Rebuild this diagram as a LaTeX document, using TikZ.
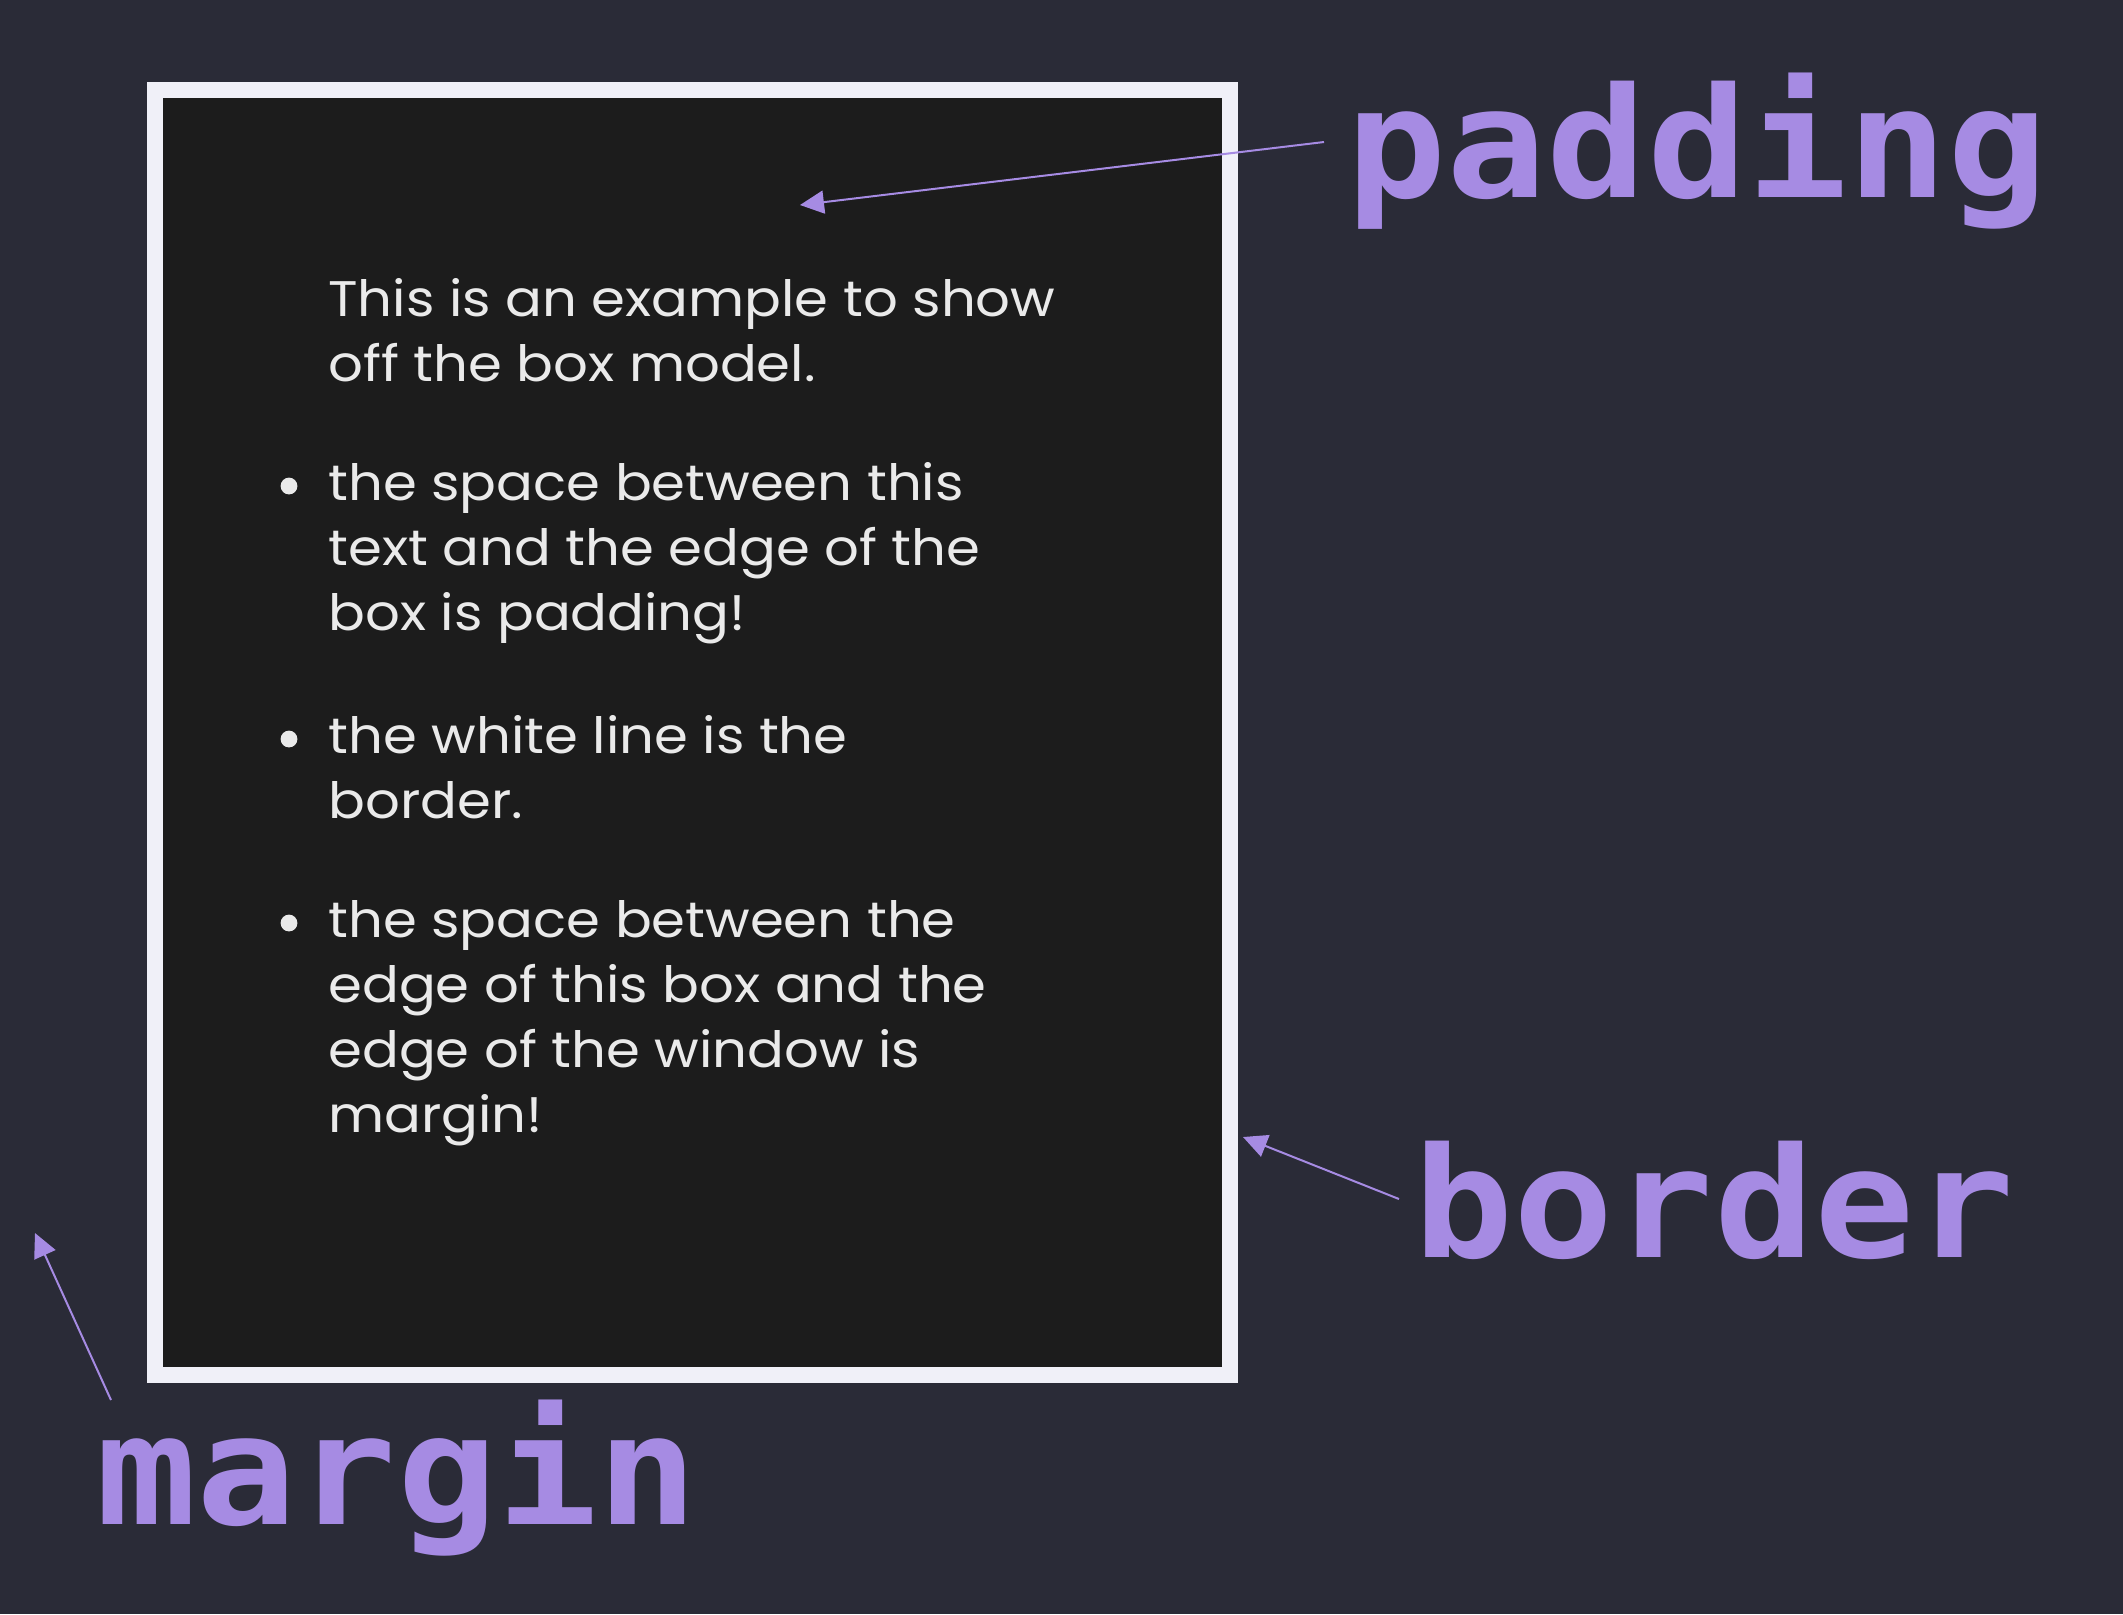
\documentclass[tikz,border=0pt]{standalone}
\usepackage{fontspec}
\setmainfont{Poppins}[FakeStretch=1.09]
\newfontfamily\labelfont{DejaVu Sans Mono}[FakeStretch=1.087]
\usetikzlibrary{arrows.meta}
\definecolor{bg}{HTML}{2A2B37}
\definecolor{boxbg}{HTML}{1C1C1C}
\definecolor{bordercol}{HTML}{F0F0F8}
\definecolor{lav}{HTML}{A68BE3}
\definecolor{txt}{HTML}{EAEAEA}
\tikzset{
  bodytext/.style={anchor=base west, inner sep=0pt, text=txt, font=\fontsize{25}{30}\selectfont},
  biglabel/.style={anchor=base west, inner sep=0pt, text=lav, font=\labelfont\bfseries\fontsize{76.6}{90}\selectfont},
  pointer/.style={draw=lav, line width=1pt, -{Triangle[length=12pt,width=11.5pt]}},
  bulletdot/.style={fill=txt}
}
\begin{document}
\begin{tikzpicture}[x=0.5pt,y=-0.5pt]
\fill[bg] (0,0) rectangle (2123,1614);
\useasboundingbox (0,0) rectangle (2123,1614);
% box
\draw[fill=boxbg, draw=bordercol, line width=8pt] (154.5,90) rectangle (1230,1375);
% text
\node[bodytext] (l1) at (328,316) {This is an example to show};
\node[bodytext] (l2) at (328,381) {off the box model.};
\fill[bulletdot] (289,486) circle[radius=4.2pt];
\node[bodytext] (b1a) at (328,500) {the space between this};
\node[bodytext] (b1b) at (328,565) {text and the edge of the};
\node[bodytext] (b1c) at (328,630) {box is padding!};
\fill[bulletdot] (289,739) circle[radius=4.2pt];
\node[bodytext] (b2a) at (328,753) {the white line is the};
\node[bodytext] (b2b) at (328,818) {border.};
\fill[bulletdot] (289,923) circle[radius=4.2pt];
\node[bodytext] (b3a) at (328,937) {the space between the};
\node[bodytext] (b3b) at (328,1002) {edge of this box and the};
\node[bodytext] (b3c) at (328,1067) {edge of the window is};
\node[bodytext] (b3d) at (328,1132) {margin!};
% labels
\node[biglabel] (padding) at (1346,197) {padding};
\node[biglabel] (border) at (1413,1257) {border};
\node[biglabel] (margin) at (96,1524) {margin};
% arrows
\coordinate (padstart) at (1324,142);
\coordinate (padtip) at (800,205);
\coordinate (borstart) at (1399,1199);
\coordinate (bortip) at (1243,1137);
\coordinate (marstart) at (111,1400);
\coordinate (martip) at (35,1233);
\draw[pointer] (padstart) -- (padtip);
\draw[pointer] (borstart) -- (bortip);
\draw[pointer] (marstart) -- (martip);
\end{tikzpicture}
\end{document}
